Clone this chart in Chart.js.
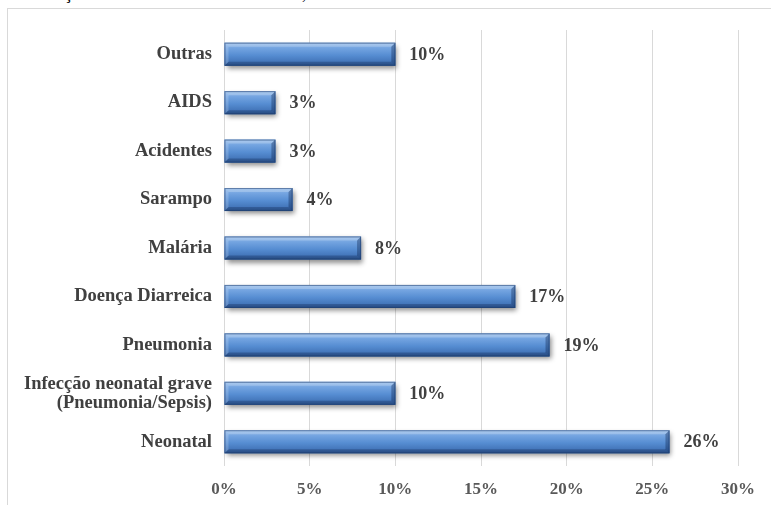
<!DOCTYPE html>
<html>
<head>
<meta charset="utf-8">
<script src="https://cdn.jsdelivr.net/npm/chart.js@4/dist/chart.umd.min.js"></script>
<style>
  html, body { margin: 0; padding: 0; background: #fff; }
  body { width: 771px; height: 505px; position: relative; overflow: hidden; }
  #caption {
    position: absolute; left: 28px; top: -17px; white-space: nowrap;
    font-family: "Liberation Serif", "Times New Roman", serif; font-size: 18px; color: #000;
  }
  #frame {
    position: absolute; left: 7px; top: 8px; width: 820px; height: 600px;
    border: 1px solid #d9d9d9; box-sizing: border-box;
  }
  #wrap { position: absolute; left: 0; top: 0; width: 771px; height: 505px; }
</style>
</head>
<body>
<div id="caption">crianças menores de 5 anos no mundo, 2003.</div>
<div id="frame"></div>
<div id="wrap"><canvas id="chart" width="771" height="505"></canvas></div>
<script>
// Causes of death, share of total (%)
const categories = [
  'Outras',
  'AIDS',
  'Acidentes',
  'Sarampo',
  'Malária',
  'Doença Diarreica',
  'Pneumonia',
  ['Infecção neonatal grave', '(Pneumonia/Sepsis)'],
  'Neonatal'
];
const shares = [10, 3, 3, 4, 8, 17, 19, 10, 26];
const axisMin = 0;
const axisMax = 30;
const axisStep = 5;

const SERIF = '"Liberation Serif", "Times New Roman", serif';
const BAR_HALF = 11.5;

// Vertical blue gradient for each bar, built from the bar's own row position
function barGradient(ctx) {
  const chart = ctx.chart;
  const yScale = chart.scales.y;
  if (!yScale || ctx.dataIndex === undefined) return '#4f81bd';
  const yc = yScale.getPixelForValue(ctx.dataIndex);
  if (!isFinite(yc)) return '#4f81bd';
  const g = chart.ctx.createLinearGradient(0, yc - BAR_HALF, 0, yc + BAR_HALF);
  g.addColorStop(0, '#93bbea');
  g.addColorStop(0.25, '#72a3e0');
  g.addColorStop(0.55, '#568dd2');
  g.addColorStop(0.85, '#4274b8');
  g.addColorStop(1, '#315d98');
  return g;
}

// Soft drop shadow under every bar
const barShadow = {
  id: 'barShadow',
  beforeDatasetsDraw(chart) {
    const ctx = chart.ctx;
    const meta = chart.getDatasetMeta(0);
    ctx.save();
    meta.data.forEach(el => {
      const h = el.height;
      const left = Math.min(el.base, el.x);
      const w = Math.abs(el.x - el.base);
      ctx.shadowColor = 'rgba(0,0,0,0.45)';
      ctx.shadowBlur = 5;
      ctx.shadowOffsetX = 2;
      ctx.shadowOffsetY = 3;
      ctx.fillStyle = '#3f70b3';
      ctx.fillRect(left, el.y - h / 2, w, h);
    });
    ctx.restore();
  }
};

// Bevelled edges on each bar, then the value labels
const barBevelAndLabels = {
  id: 'barBevelAndLabels',
  afterDatasetsDraw(chart) {
    const ctx = chart.ctx;
    const meta = chart.getDatasetMeta(0);
    const values = chart.data.datasets[0].data;
    ctx.save();
    meta.data.forEach((el, i) => {
      const l = Math.min(el.base, el.x);
      const r = Math.max(el.base, el.x);
      const t = el.y - el.height / 2;
      const b = el.y + el.height / 2;
      const bv = Math.min(4, (r - l) / 3);
      const poly = (pts, fill) => {
        ctx.beginPath();
        ctx.moveTo(pts[0][0], pts[0][1]);
        for (let k = 1; k < pts.length; k++) ctx.lineTo(pts[k][0], pts[k][1]);
        ctx.closePath();
        ctx.fillStyle = fill;
        ctx.fill();
      };
      poly([[l, t], [r, t], [r - bv, t + bv], [l + bv, t + bv]], 'rgba(255,255,255,0.22)');
      poly([[l, b], [r, b], [r - bv, b - bv], [l + bv, b - bv]], 'rgba(10,30,70,0.28)');
      poly([[l, t], [l + bv, t + bv], [l + bv, b - bv], [l, b]], 'rgba(255,255,255,0.18)');
      poly([[r, t], [r - bv, t + bv], [r - bv, b - bv], [r, b]], 'rgba(10,30,70,0.35)');
      ctx.strokeStyle = 'rgba(30,60,110,0.55)';
      ctx.lineWidth = 1;
      ctx.strokeRect(l + 0.5, t + 0.5, r - l - 1, b - t - 1);

      ctx.fillStyle = '#404040';
      ctx.font = 'bold 18px ' + SERIF;
      ctx.textAlign = 'left';
      ctx.textBaseline = 'middle';
      ctx.fillText(values[i] + '%', r + 14, el.y + 1);
    });
    ctx.restore();
  }
};

new Chart(document.getElementById('chart'), {
  type: 'bar',
  data: {
    labels: categories,
    datasets: [{
      data: shares,
      backgroundColor: barGradient,
      borderWidth: 0,
      barPercentage: 0.95,
      categoryPercentage: 0.5
    }]
  },
  options: {
    indexAxis: 'y',
    responsive: false,
    animation: false,
    layout: { padding: { top: 30, right: 33, bottom: 0, left: 0 } },
    plugins: {
      legend: { display: false },
      tooltip: { enabled: false }
    },
    scales: {
      x: {
        min: axisMin,
        max: axisMax,
        grid: { color: '#d9d9d9', lineWidth: 1, drawTicks: false },
        border: { display: false },
        ticks: {
          stepSize: axisStep,
          padding: 13,
          color: '#595959',
          font: { family: SERIF, size: 17, weight: 'bold' },
          callback: v => v + '%'
        },
        afterFit: s => { s.height = 39; }
      },
      y: {
        grid: { display: false, drawTicks: false },
        border: { display: false },
        ticks: {
          padding: 12,
          color: '#404040',
          font: { family: SERIF, size: 18.5, weight: 'bold', lineHeight: 1.03 }
        },
        afterFit: s => { s.width = 224; }
      }
    }
  },
  plugins: [barShadow, barBevelAndLabels]
});
</script>
</body>
</html>
